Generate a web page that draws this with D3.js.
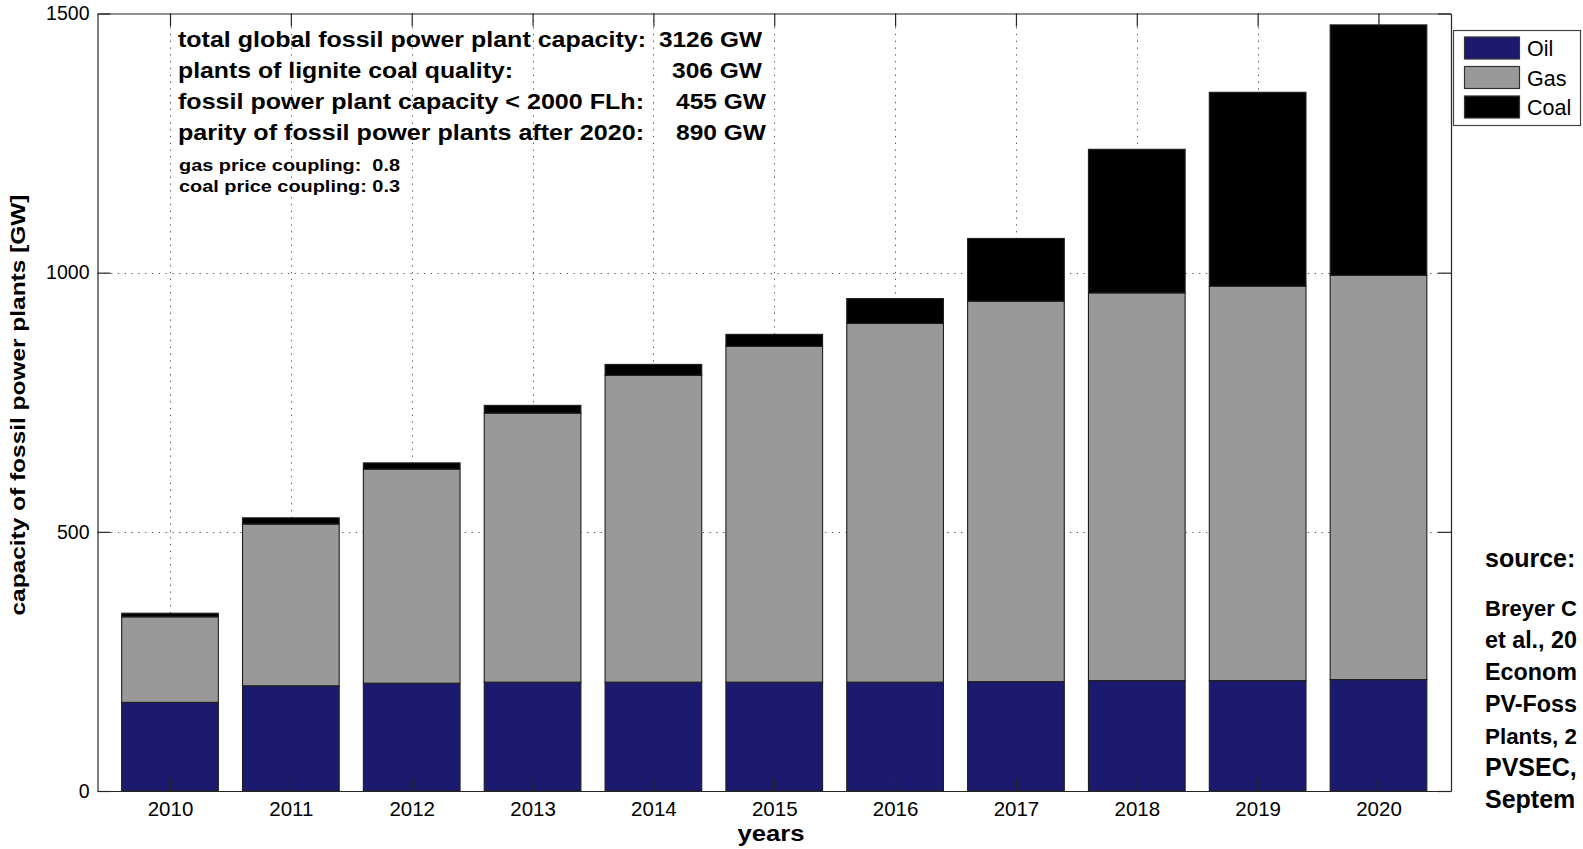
<!DOCTYPE html>
<html><head><meta charset="utf-8">
<script src="https://cdn.jsdelivr.net/npm/d3@7"></script>
<style>
html,body{margin:0;padding:0;background:#fff;overflow:hidden;}
svg{display:block;font-family:"Liberation Sans",Arial,Helvetica,sans-serif;}
</style></head>
<body>
<svg id="chart" width="1583" height="849"></svg>
<script>
// ---- data ----
const years = [2010, 2011, 2012, 2013, 2014, 2015, 2016, 2017, 2018, 2019, 2020];
const oil  = [171, 203, 208, 210, 210, 210, 210, 211, 213, 213, 215];
const gas  = [165, 312, 413, 519, 592, 648, 692, 734, 748, 761, 780];
const coal = [7, 12, 12, 15, 21, 23, 48, 121, 277, 374, 483];
const seriesNames = ["Oil", "Gas", "Coal"];
const yTicks = [0, 500, 1000, 1500];
const infoLabels = [
  "total global fossil power plant capacity:",
  "plants of lignite coal quality:",
  "fossil power plant capacity < 2000 FLh:",
  "parity of fossil power plants after 2020:"
];
const infoValues = ["3126 GW", "306 GW", "455 GW", "890 GW"];
const couplingLines = ["gas price coupling:  0.8", "coal price coupling: 0.3"];
// source note as visible in the reference (cut at the right page edge)
const sourceLines = ["source:", "Breyer C", "et al., 20", "Econom", "PV-Foss", "Plants, 2", "PVSEC,", "Septem"];

// ---- layout ----
const colors = {Oil: "#1b1a6f", Gas: "#999999", Coal: "#000000"};
const L = 97.5, R = 1451, T = 13.5, B = 791;
const svg = d3.select("#chart");

const x = d3.scaleLinear().domain([2009.4, 2020.6]).range([L, R]);
const y = d3.scaleLinear().domain([0, 1500]).range([B, T]);
const barW = x(2010.4) - x(2009.6);

const table = years.map((yr, i) => ({year: yr, Oil: oil[i], Gas: gas[i], Coal: coal[i]}));
const stacked = d3.stack().keys(seriesNames)(table);

// grid
const grid = svg.append("g").attr("stroke", "#555").attr("stroke-width", 1).attr("stroke-dasharray", "1.3,5.5");
grid.selectAll("line.v").data(years).join("line")
  .attr("x1", d => Math.round(x(d)) + 0.5).attr("x2", d => Math.round(x(d)) + 0.5)
  .attr("y1", T).attr("y2", B);
grid.selectAll("line.h").data([500, 1000]).join("line")
  .attr("x1", L).attr("x2", R)
  .attr("y1", d => Math.round(y(d)) + 0.5).attr("y2", d => Math.round(y(d)) + 0.5);

// bars
const bars = svg.append("g");
stacked.forEach(s => {
  bars.append("g").attr("fill", colors[s.key]).attr("stroke", "#1e1e1e").attr("stroke-width", 1.1)
    .selectAll("rect").data(s).join("rect")
    .attr("x", d => x(d.data.year) - barW / 2)
    .attr("width", barW)
    .attr("y", d => y(d[1]))
    .attr("height", d => y(d[0]) - y(d[1]));
});

// axes
const axisColor = "#262626";
function styleAxis(g) {
  g.selectAll("path.domain").attr("stroke", axisColor).attr("stroke-width", 1.2);
  g.selectAll(".tick line").attr("stroke", axisColor).attr("stroke-width", 1.2);
  g.selectAll("text").attr("fill", "#000").attr("font-family", '"Liberation Sans",Arial,sans-serif');
}
svg.append("g").attr("transform", `translate(0,${B})`)
  .call(d3.axisBottom(x).tickValues(years).tickFormat(d3.format("d")).tickSizeInner(-13).tickSizeOuter(0).tickPadding(10))
  .call(g => g.selectAll("text").attr("font-size", 20.5))
  .call(styleAxis);
svg.append("g").attr("transform", `translate(0,${T})`)
  .call(d3.axisTop(x).tickValues(years).tickFormat("").tickSizeInner(-13).tickSizeOuter(0))
  .call(styleAxis);
svg.append("g").attr("transform", `translate(${L},0)`)
  .call(d3.axisLeft(y).tickValues(yTicks).tickFormat(d3.format("d")).tickSizeInner(-13).tickSizeOuter(0).tickPadding(8))
  .call(g => g.selectAll("text").attr("font-size", 19.5))
  .call(styleAxis);
svg.append("g").attr("transform", `translate(${R},0)`)
  .call(d3.axisRight(y).tickValues(yTicks).tickFormat("").tickSizeInner(-13).tickSizeOuter(0))
  .call(styleAxis);

// axis titles
svg.append("text").attr("x", 771).attr("y", 841).attr("text-anchor", "middle")
  .attr("font-size", 22).attr("font-weight", "bold").attr("textLength", 67).attr("lengthAdjust", "spacingAndGlyphs")
  .text("years");
svg.append("text").attr("transform", "translate(25,405) rotate(-90)").attr("text-anchor", "middle")
  .attr("font-size", 21).attr("font-weight", "bold").attr("textLength", 421).attr("lengthAdjust", "spacingAndGlyphs")
  .text("capacity of fossil power plants [GW]");

// info block
const infoY = [46.5, 77.5, 108.5, 139.5];
const labelLen = [468, 335, 466, 466];
const valRight = [762, 762, 766, 766];
const valLen = [103, 90, 90, 90];
const info = svg.append("g").attr("font-weight", "bold").attr("font-size", 22);
infoLabels.forEach((t, i) => {
  info.append("text").attr("x", 178).attr("y", infoY[i])
    .attr("textLength", labelLen[i]).attr("lengthAdjust", "spacingAndGlyphs").text(t);
  info.append("text").attr("x", valRight[i] - valLen[i]).attr("y", infoY[i])
    .attr("textLength", valLen[i]).attr("lengthAdjust", "spacingAndGlyphs").text(infoValues[i]);
});
[170.5, 192].forEach((yy, i) => {
  info.append("text").attr("x", 179).attr("y", yy).attr("font-size", 17)
    .attr("textLength", 221).attr("lengthAdjust", "spacingAndGlyphs").attr("xml:space", "preserve")
    .text(couplingLines[i]);
});

// legend
const lg = svg.append("g");
lg.append("rect").attr("x", 1453.5).attr("y", 30.5).attr("width", 127).attr("height", 95)
  .attr("fill", "#fff").attr("stroke", "#444").attr("stroke-width", 1.2);
seriesNames.forEach((n, i) => {
  const yy = 37 + i * 29.5;
  lg.append("rect").attr("x", 1464.5).attr("y", yy).attr("width", 55).attr("height", 22)
    .attr("fill", colors[n]).attr("stroke", "#333").attr("stroke-width", 1.2);
  lg.append("text").attr("x", 1527).attr("y", yy + 19).attr("font-size", 21.5).text(n);
});

// source text at right page edge (shrink font where needed so it fits)
const srcX = 1485, maxW = 1577 - srcX, baseFs = 25;
const src = svg.append("g").attr("font-weight", "bold");
sourceLines.forEach((t, i) => {
  const yy = i === 0 ? 566.5 : 615.5 + (i - 1) * 32;
  const tx = src.append("text").attr("x", srcX).attr("y", yy).attr("font-size", baseFs).text(t);
  const w = tx.node().getComputedTextLength();
  if (w > maxW) tx.attr("font-size", (baseFs * maxW / w).toFixed(2));
});
</script>
</body></html>
